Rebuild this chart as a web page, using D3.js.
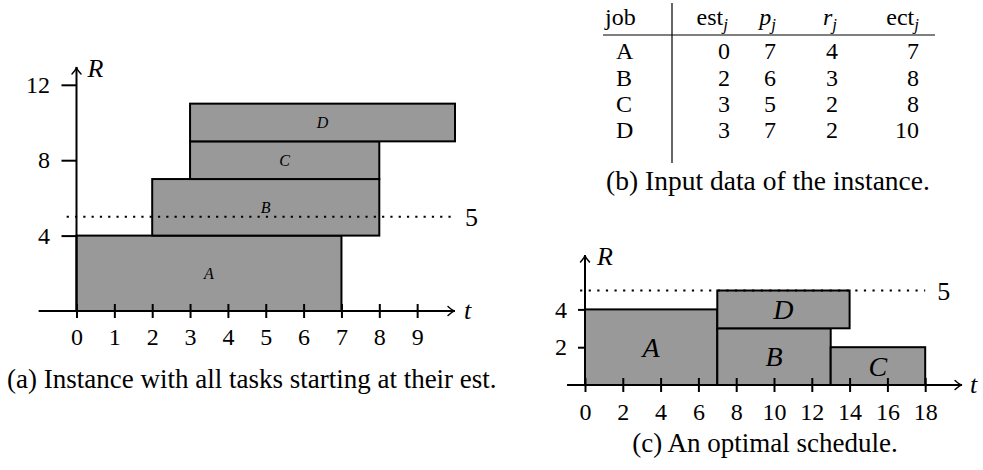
<!DOCTYPE html>
<html>
<head>
<meta charset="utf-8">
<script src="https://cdn.jsdelivr.net/npm/d3@7/dist/d3.min.js"></script>
</head>
<body style="margin:0">
<script>
// Jobs of the instance
const jobs = ["A", "B", "C", "D"];
const est = [0, 2, 3, 3];      // earliest start times
const proc = [7, 6, 5, 7];     // processing times
const req = [4, 3, 2, 2];      // resource requirements
const ect = [7, 8, 8, 10];     // earliest completion times
const capacity = 5;

// Optimal schedule: start times and stacking offsets
const schedStart = [0, 7, 13, 7];
const schedBase = [0, 0, 0, 3];

// Axis ticks
const xTicksA = [0, 1, 2, 3, 4, 5, 6, 7, 8, 9];
const yTicksA = [4, 8, 12];
const xTicksC = [0, 2, 4, 6, 8, 10, 12, 14, 16, 18];
const yTicksC = [2, 4];

const captions = [
  "(a) Instance with all tasks starting at their est.",
  "(b) Input data of the instance.",
  "(c) An optimal schedule."
];

const FILL = "#999999";
const FS = 24;
const FAMILY = "Liberation Serif";

const svg = d3.select("body").append("svg")
  .attr("width", 983).attr("height", 470)
  .attr("font-family", FAMILY);

// text layer lives directly on the root svg
function label(x, y, txt, size, italic) {
  const t = svg.append("text").attr("x", x).attr("y", y)
    .attr("font-family", FAMILY)
    .style("font-family", `"${FAMILY}"`)
    .style("font-size", size + "px")
    .text(txt);
  if (italic) t.style("font-style", "italic");
  return t;
}

// Open arrow head pointing in direction (dx, dy)
function arrowHead(g, x, y, dx, dy) {
  const L = 7, W = 4.5;
  const px = -dy, py = dx;
  const p = d3.path();
  p.moveTo(x - dx * L + px * W, y - dy * L + py * W);
  p.quadraticCurveTo(x - dx * 2, y - dy * 2, x, y);
  p.quadraticCurveTo(x - dx * 2, y - dy * 2, x - dx * L - px * W, y - dy * L - py * W);
  g.append("path").attr("d", p.toString())
    .attr("fill", "none").attr("stroke", "#000").attr("stroke-width", 1.5)
    .attr("stroke-linecap", "round");
}

function styleAxis(g) {
  g.attr("font-family", FAMILY).attr("font-size", null);
  g.select(".domain").remove();
  g.selectAll(".tick line").attr("stroke", "#000").attr("stroke-width", 2);
  g.selectAll(".tick text")
    .attr("font-family", FAMILY)
    .style("font-family", `"${FAMILY}"`)
    .style("font-size", FS + "px");
}

// ---------- (a) all tasks at their est ----------
const xA = d3.scaleLinear().domain([0, 10]).range([76.5, 455]);
const yA = d3.scaleLinear().domain([0, 12]).range([311, 84.8]);
const gA = svg.append("g");

const baseA = req.map((r, i) => d3.sum(req.slice(0, i)));

gA.selectAll("rect.job").data(jobs).join("rect")
  .attr("class", "job")
  .attr("x", (d, i) => xA(est[i]))
  .attr("y", (d, i) => yA(baseA[i] + req[i]))
  .attr("width", (d, i) => xA(est[i] + proc[i]) - xA(est[i]))
  .attr("height", (d, i) => yA(baseA[i]) - yA(baseA[i] + req[i]))
  .attr("fill", FILL).attr("stroke", "#000").attr("stroke-width", 2);

// capacity line
gA.append("line")
  .attr("x1", xA(-0.26)).attr("x2", xA(10))
  .attr("y1", yA(capacity)).attr("y2", yA(capacity))
  .attr("stroke", "#000").attr("stroke-width", 2.2)
  .attr("stroke-dasharray", "2.2 6.1");

// axes
const axXA = gA.append("g").attr("transform", `translate(0,${yA(0)})`)
  .call(d3.axisBottom(xA).tickValues(xTicksA).tickFormat(d3.format("d"))
    .tickSize(7).tickSizeOuter(0));
styleAxis(axXA);
axXA.selectAll(".tick line").attr("y1", -7).attr("y2", 7);
axXA.selectAll(".tick text").attr("y", 34).attr("dy", 0);

const axYA = gA.append("g").attr("transform", `translate(${xA(0)},0)`)
  .call(d3.axisLeft(yA).tickValues(yTicksA).tickFormat(d3.format("d"))
    .tickSize(15).tickPadding(11.5).tickSizeOuter(0));
styleAxis(axYA);

gA.append("line").attr("x1", xA(-1)).attr("x2", xA(10))
  .attr("y1", yA(0)).attr("y2", yA(0)).attr("stroke", "#000").attr("stroke-width", 2);
arrowHead(gA, xA(10), yA(0), 1, 0);
gA.append("line").attr("x1", xA(0)).attr("x2", xA(0))
  .attr("y1", yA(0)).attr("y2", yA(12.95)).attr("stroke", "#000").attr("stroke-width", 2);
arrowHead(gA, xA(0), yA(12.95), 0, -1);

// ---------- (b) input table rules ----------
const gB = svg.append("g");
gB.append("line").attr("x1", 672).attr("x2", 672).attr("y1", 3).attr("y2", 163)
  .attr("stroke", "#000").attr("stroke-width", 1.2);
gB.append("line").attr("x1", 603).attr("x2", 935).attr("y1", 35).attr("y2", 35)
  .attr("stroke", "#000").attr("stroke-width", 1.2);

// ---------- (c) optimal schedule ----------
const xC = d3.scaleLinear().domain([0, 18]).range([585, 925.2]);
const yC = d3.scaleLinear().domain([0, 5]).range([385, 290.5]);
const gC = svg.append("g");

gC.selectAll("rect.job").data(jobs).join("rect")
  .attr("class", "job")
  .attr("x", (d, i) => xC(schedStart[i]))
  .attr("y", (d, i) => yC(schedBase[i] + req[i]))
  .attr("width", (d, i) => xC(schedStart[i] + proc[i]) - xC(schedStart[i]))
  .attr("height", (d, i) => yC(schedBase[i]) - yC(schedBase[i] + req[i]))
  .attr("fill", FILL).attr("stroke", "#000").attr("stroke-width", 2);

gC.append("line")
  .attr("x1", xC(-0.26)).attr("x2", xC(18))
  .attr("y1", yC(capacity)).attr("y2", yC(capacity))
  .attr("stroke", "#000").attr("stroke-width", 2.2)
  .attr("stroke-dasharray", "2.2 6.4");

const axXC = gC.append("g").attr("transform", `translate(0,${yC(0)})`)
  .call(d3.axisBottom(xC).tickValues(xTicksC).tickFormat(d3.format("d"))
    .tickSize(7).tickSizeOuter(0));
styleAxis(axXC);
axXC.selectAll(".tick line").attr("y1", -7).attr("y2", 7);
axXC.selectAll(".tick text").attr("y", 35).attr("dy", 0);

const axYC = gC.append("g").attr("transform", `translate(${xC(0)},0)`)
  .call(d3.axisLeft(yC).tickValues(yTicksC).tickFormat(d3.format("d"))
    .tickSize(7).tickPadding(11).tickSizeOuter(0));
styleAxis(axYC);

gC.append("line").attr("x1", xC(-0.95)).attr("x2", xC(19.95))
  .attr("y1", yC(0)).attr("y2", yC(0)).attr("stroke", "#000").attr("stroke-width", 2);
arrowHead(gC, xC(19.95), yC(0), 1, 0);
gC.append("line").attr("x1", xC(0)).attr("x2", xC(0))
  .attr("y1", yC(0)).attr("y2", yC(6.88)).attr("stroke", "#000").attr("stroke-width", 2);
arrowHead(gC, xC(0), yC(6.88), 0, -1);

// ---------- text layer ----------
// (a)
jobs.forEach((j, i) => {
  label(xA(est[i] + proc[i] / 2), yA(baseA[i] + req[i] / 2), j, 16, true)
    .attr("text-anchor", "middle").attr("dy", "0.35em");
});
label(xA(10) + 10, yA(capacity), capacity, FS + 2, false).attr("dy", "0.35em");
label(xA(0) + 11, yA(12.95) + 10, "R", FS + 2, true);
label(xA(10) + 9, yA(0) + 8, "t", FS + 2, true);
label(7, 388, captions[0], 27, false);

// (b)
const colRight = [730, 776, 838, 919];
const rowY = [59, 85.5, 112, 138];
const headerY = 25;
label(605, headerY, "job", FS, false);
const headers = [
  { main: "est", italic: false },
  { main: "p", italic: true },
  { main: "r", italic: true },
  { main: "ect", italic: false }
];
headers.forEach((h, k) => {
  const t = label(colRight[k] - (k === 0 ? 2 : k === 2 ? 1 : 0), headerY, null, FS, false)
    .attr("text-anchor", "end");
  const m = t.append("tspan").text(h.main);
  if (h.italic) m.style("font-style", "italic");
  t.append("tspan").attr("dy", 5).style("font-size", "17px").style("font-style", "italic").text("j");
});
const columns = [est, proc, req, ect];
jobs.forEach((j, i) => {
  label(616, rowY[i], j, FS, false);
  columns.forEach((col, k) => {
    label(colRight[k], rowY[i], col[i], FS, false).attr("text-anchor", "end");
  });
});
label(768, 190, captions[1], 27.5, false).attr("text-anchor", "middle");

// (c)
jobs.forEach((j, i) => {
  label(xC(schedStart[i] + proc[i] / 2), yC(schedBase[i] + req[i] / 2), j, 28, true)
    .attr("text-anchor", "middle").attr("dy", "0.35em");
});
label(xC(18) + 12, yC(capacity), capacity, FS + 2, false).attr("dy", "0.35em");
label(xC(0) + 12, yC(6.88) + 10, "R", FS + 2, true);
label(xC(19.95) + 8, yC(0) + 8, "t", FS + 2, true);
label(765, 452, captions[2], 27, false).attr("text-anchor", "middle");
</script>
</body>
</html>
